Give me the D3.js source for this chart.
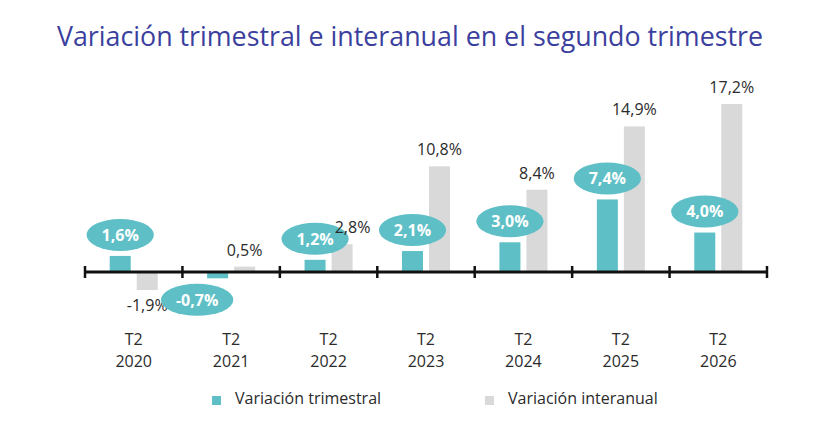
<!DOCTYPE html>
<html>
<head>
<meta charset="utf-8">
<script src="https://cdn.jsdelivr.net/npm/d3@7"></script>
<style>
  body { margin: 0; background: #fff; }
  svg { font-family: "Open Sans", sans-serif; }
</style>
</head>
<body>
<div id="chart"></div>
<script>
const categories = ["2020", "2021", "2022", "2023", "2024", "2025", "2026"];
const quarterLabel = "T2";
const trimestral = [1.6, -0.7, 1.2, 2.1, 3.0, 7.4, 4.0];
const interanual = [-1.9, 0.5, 2.8, 10.8, 8.4, 14.9, 17.2];
const seriesNames = ["Variación trimestral", "Variación interanual"];
const colors = ["#5ec0c6", "#d9d9d9"];

const width = 820,
    height = 442;

const fmt = v => d3.format(".1f")(v).replace("\u2212", "-").replace(".", ",") + "%";

const svg = d3.select("#chart").append("svg")
    .attr("width", width)
    .attr("height", height);

svg.append("text")
    .attr("x", width / 2)
    .attr("y", 46)
    .attr("text-anchor", "middle")
    .attr("fill", "#3b3f9e")
    .style("font-size", "26.8px")
    .text("Variación trimestral e interanual en el segundo trimestre");

const x = d3.scaleBand()
    .domain(categories)
    .range([85, 767]);

const x1 = d3.scaleBand()
    .domain([0, 1])
    .range([0, x.bandwidth()])
    .paddingInner(0.222)
    .paddingOuter(0.915);

const y = d3.scaleLinear()
    .domain([0, 17.2])
    .range([271.5, 104]);

const rows = categories.map((c, i) => ({ cat: c, vals: [trimestral[i], interanual[i]] }));

const groups = svg.selectAll("g.cat")
    .data(rows)
  .enter().append("g")
    .attr("class", "cat")
    .attr("transform", d => "translate(" + x(d.cat) + ",0)");

// bars
groups.selectAll("rect")
    .data(d => d.vals.map((v, s) => ({ v: v, s: s })))
  .enter().append("rect")
    .attr("x", d => x1(d.s))
    .attr("width", x1.bandwidth())
    .attr("y", d => Math.min(y(d.v), y(0)))
    .attr("height", d => Math.abs(y(d.v) - y(0)))
    .attr("fill", d => colors[d.s]);

// axis line + ticks at band boundaries
const axisY = 272;
svg.append("line")
    .attr("x1", x.range()[0]).attr("x2", x.range()[1])
    .attr("y1", axisY).attr("y2", axisY)
    .attr("stroke", "#111")
    .attr("stroke-width", 3);

const bounds = categories.map(c => x(c)).concat([x.range()[1]]);
svg.selectAll("line.tick")
    .data(bounds)
  .enter().append("line")
    .attr("class", "tick")
    .attr("x1", d => d).attr("x2", d => d)
    .attr("y1", axisY - 6).attr("y2", axisY + 6)
    .attr("stroke", "#111")
    .attr("stroke-width", 2.5);

// trimestral bubbles
const bubbles = groups.append("g")
    .attr("class", "bubble")
    .attr("transform", d => {
      const v = d.vals[0];
      const cx = x1(0) + x1.bandwidth() / 2 + (v < 0 ? -20.5 : 0);
      const cy = v >= 0 ? y(v) - 21 : y(v) + 21.5;
      return "translate(" + cx + "," + cy + ")";
    });

bubbles.append("ellipse")
    .attr("ry", 16)
    .attr("fill", colors[0]);

bubbles.append("text")
    .attr("text-anchor", "middle")
    .attr("dy", "0.36em")
    .attr("fill", "#fff")
    .style("font-size", "16px")
    .style("font-weight", "bold")
    .text(d => fmt(d.vals[0]))
    .each(function() {
      const w = this.getComputedTextLength();
      d3.select(this.parentNode).select("ellipse").attr("rx", w / 2 + 15);
    });

// interanual labels (drawn over bubbles)
const ilabels = groups.append("text")
    .attr("x", x1(1) + x1.bandwidth() / 2)
    .attr("y", d => d.vals[1] >= 0 ? y(d.vals[1]) - 11 : y(d.vals[1]) + 21)
    .attr("text-anchor", "middle")
    .attr("fill", "#2b2b2b")
    .style("font-size", "16px")
    .text(d => fmt(d.vals[1]));

// nudge a label to the right when it runs into the bubble text
ilabels.each(function() {
  const lab = this.getBoundingClientRect();
  const bt = d3.select(this.parentNode).select("g.bubble text").node().getBoundingClientRect();
  const vOverlap = lab.top < bt.bottom && bt.top < lab.bottom;
  if (vOverlap && lab.left < bt.right) {
    const cur = +d3.select(this).attr("x");
    d3.select(this).attr("x", cur + (bt.right - lab.left) + 1);
  }
});

// category labels
groups.append("text")
    .attr("x", x.bandwidth() / 2)
    .attr("y", 344.5)
    .attr("text-anchor", "middle")
    .attr("fill", "#2b2b2b")
    .style("font-size", "16px")
    .text(quarterLabel);

groups.append("text")
    .attr("x", x.bandwidth() / 2)
    .attr("y", 366.5)
    .attr("text-anchor", "middle")
    .attr("fill", "#2b2b2b")
    .style("font-size", "16px")
    .text(d => d.cat);

// legend
const legendX = [212, 485];
const legend = svg.selectAll("g.legend")
    .data(seriesNames)
  .enter().append("g")
    .attr("class", "legend")
    .attr("transform", (d, i) => "translate(" + legendX[i] + ",396)");

legend.append("rect")
    .attr("width", 9)
    .attr("height", 9)
    .attr("fill", (d, i) => colors[i]);

legend.append("text")
    .attr("x", 23)
    .attr("y", 8)
    .attr("fill", "#2b2b2b")
    .style("font-size", "16px")
    .text(d => d);
</script>
</body>
</html>
